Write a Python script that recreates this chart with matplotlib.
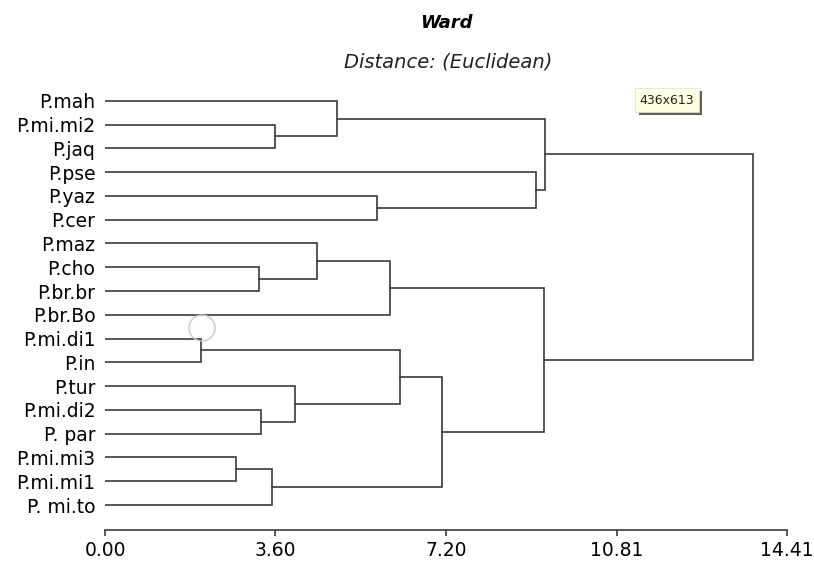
import matplotlib
matplotlib.use('Agg')
import matplotlib.pyplot as plt
from matplotlib.patches import Ellipse, Rectangle

# leaves, top to bottom
leaves = ['P.mah', 'P.mi.mi2', 'P.jaq', 'P.pse', 'P.yaz', 'P.cer', 'P.maz',
          'P.cho', 'P.br.br', 'P.br.Bo', 'P.mi.di1', 'P.in', 'P.tur',
          'P.mi.di2', 'P. par', 'P.mi.mi3', 'P.mi.mi1', 'P. mi.to']

# merges: (left, right, height); ints < 18 are leaves, >= 18 are earlier merges
merge_left = [1, 0, 4, 3, 19, 7, 6, 24, 10, 13, 12, 26, 15, 30, 29, 25, 22]
merge_right = [2, 18, 5, 20, 21, 8, 23, 9, 11, 14, 27, 28, 16, 17, 31, 32, 33]
merge_height = [3.59, 4.90, 5.75, 9.11, 9.30, 3.25, 4.48, 6.02, 2.03, 3.30,
                4.01, 6.23, 2.76, 3.52, 7.12, 9.28, 13.69]

xticks = [0.00, 3.60, 7.20, 10.81, 14.41]
xticklabels = ['0.00', '3.60', '7.20', '10.81', '14.41']

line_col = '#3a3a3a'
W, H = 814, 561

fig = plt.figure(figsize=(8.14, 5.61), dpi=100)
ax = fig.add_axes([105/W, 1 - 530/H, (787 - 105)/W, (530 - 77)/H])

n = len(leaves)
pos = {i: (0.0, float(i)) for i in range(n)}   # node -> (height, y)
for k in range(len(merge_height)):
    a, b, h = merge_left[k], merge_right[k], merge_height[k]
    xa, ya = pos[a]
    xb, yb = pos[b]
    ax.plot([xa, h, h, xb], [ya, ya, yb, yb], color=line_col, lw=1.2,
            solid_joinstyle='miter')
    pos[n + k] = (h, (ya + yb) / 2)

ax.set_xlim(0, 14.41)
ax.set_ylim(n - 1 + 1.05, -1)
ax.set_yticks(range(n))
ax.set_yticklabels(leaves, fontsize=13.5)
ax.tick_params(axis='y', length=0, pad=7)
ax.set_xticks(xticks)
ax.set_xticklabels(xticklabels, fontsize=13.5)
ax.tick_params(axis='x', direction='out', length=4, width=1.2, color=line_col, pad=4)
for s in ['top', 'right', 'left']:
    ax.spines[s].set_visible(False)
ax.spines['bottom'].set_color(line_col)
ax.spines['bottom'].set_linewidth(1.2)

fig.text(446/W, 1 - 23/H, 'Ward', ha='center', va='center',
         fontsize=13, fontweight='bold', fontstyle='italic')
fig.text(448/W, 1 - 62/H, 'Distance: (Euclidean)', ha='center', va='center',
         fontsize=14, fontstyle='italic', color='#222222')

# tooltip left on the screenshot: shadow, box, text
fig.patches.append(Rectangle((639/W, 1 - 115/H), 63/W, 24/H, transform=fig.transFigure,
                             facecolor='#606060', edgecolor='none'))
fig.patches.append(Rectangle((635/W, 1 - 112/H), 64/W, 24/H, transform=fig.transFigure,
                             facecolor='#ffffe1', edgecolor='#e0e0c8', lw=0.5))
fig.text(667/W, 1 - 100/H, '436x613', ha='center', va='center', fontsize=9,
         color='#222222')

fig.patches.append(Ellipse((202/W, 1 - 328/H), 26/W, 26/H,
                           transform=fig.transFigure, facecolor='none',
                           edgecolor='#c8c8c8', lw=1))

fig.savefig('out.png', dpi=100)
